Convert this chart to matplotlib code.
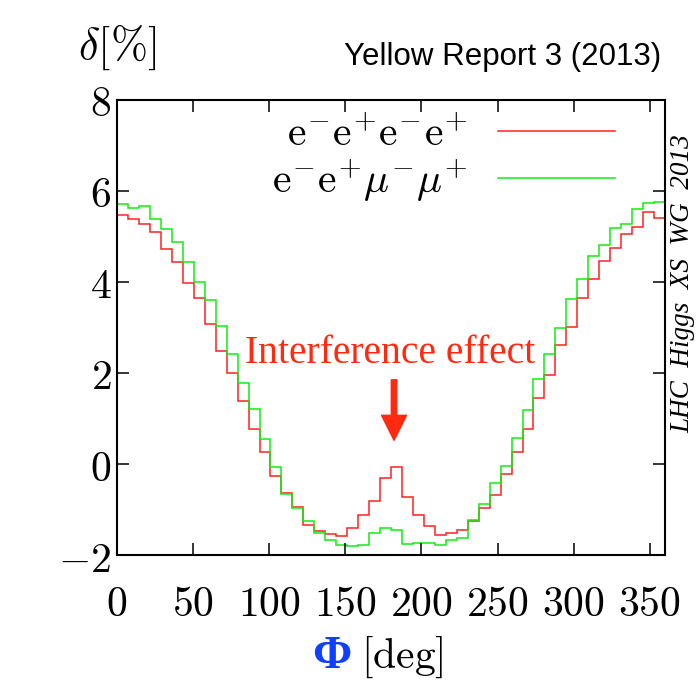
import numpy as np
import matplotlib
matplotlib.use("Agg")
import matplotlib.pyplot as plt

plt.rcParams['mathtext.fontset'] = 'cm'

# 50 bins of 7.2 deg in the azimuthal angle Phi
phi_edges = np.linspace(0, 360, 51)

# delta [%] per bin, 4e final state
delta_eeee = [5.48, 5.39, 5.27, 5.09, 4.73, 4.45, 3.97, 3.64, 3.08, 2.49,
              1.99, 1.39, 0.76, 0.26, -0.26, -0.64, -0.94, -1.33, -1.47, -1.54,
              -1.58, -1.40, -1.12, -0.81, -0.30, -0.07, -0.72, -1.13, -1.37, -1.55,
              -1.52, -1.45, -1.25, -0.97, -0.68, -0.22, 0.26, 0.78, 1.44, 1.96,
              2.62, 3.02, 3.65, 4.06, 4.47, 4.74, 5.05, 5.20, 5.53, 5.40]

# delta [%] per bin, 2e2mu final state
delta_eemm = [5.72, 5.62, 5.68, 5.39, 5.17, 4.87, 4.45, 4.01, 3.60, 3.03,
              2.41, 1.79, 1.20, 0.55, -0.07, -0.66, -0.97, -1.25, -1.52, -1.66,
              -1.79, -1.81, -1.77, -1.52, -1.41, -1.46, -1.76, -1.73, -1.73, -1.77,
              -1.68, -1.62, -1.24, -0.88, -0.42, -0.05, 0.58, 1.19, 1.87, 2.41,
              2.98, 3.63, 4.06, 4.57, 4.81, 5.18, 5.27, 5.60, 5.73, 5.75]

x_ticks = [0, 50, 100, 150, 200, 250, 300, 350]
y_ticks = [-2, 0, 2, 4, 6, 8]

fig = plt.figure(figsize=(6.97, 6.81), dpi=100)
ax = fig.add_axes([0.1679, 0.185, 0.7862, 0.6682])

ax.stairs(delta_eeee, phi_edges, baseline=None, color='#ff2020', lw=1.1,
          label=r'$\mathrm{e^{-}e^{+}e^{-}e^{+}}$')
ax.stairs(delta_eemm, phi_edges, baseline=None, color='#10ee10', lw=1.1,
          label=r'$\mathrm{e^{-}e^{+}}\mu^{-}\mu^{+}$')

ax.set_xlim(0, 360)
ax.set_ylim(-2, 8)
ax.set_xticks(x_ticks)
ax.set_xticklabels([f'${v}$' for v in x_ticks])
ax.set_yticks(y_ticks)
ax.set_yticklabels([f'${v}$' for v in y_ticks])
ax.tick_params(direction='in', length=8.5, width=1.1, top=True, right=True,
               labelsize=30)
ax.tick_params(axis='x', pad=20)
ax.tick_params(axis='y', pad=4)
for s in ax.spines.values():
    s.set_linewidth(1.5)

ax.legend(loc='upper right', bbox_to_anchor=(0.909, 0.972), markerfirst=False,
          frameon=False, fontsize=30, handlelength=2.8, handletextpad=0.75,
          labelspacing=0.05, borderpad=0, borderaxespad=0)

# annotation of the interference peak
ax.text(179.4, 2.22, 'Interference effect', ha='center', va='baseline',
        color='#ff2a10', fontsize=28.5, family='Liberation Serif')
ax.annotate('', xy=(182, 0.52), xytext=(182, 1.85),
            arrowprops=dict(arrowstyle='simple,head_length=1.0,head_width=1.0,tail_width=0.22',
                            color='#ff2a10', mutation_scale=18, shrinkA=0, shrinkB=0))

fig.text(0.168, 0.931, r'$\delta[\%]$', fontsize=32, ha='center', va='center')
fig.text(0.7217, 0.916, 'Yellow Report 3 (2013)', fontsize=22.5,
         family='Liberation Sans', ha='center', va='center')
fig.text(0.979, 0.583, 'LHC  Higgs  XS  WG  2013', rotation=90, fontsize=19.5,
         family='Liberation Serif', style='italic', ha='center', va='center')

# axis title: bold blue Phi followed by the unit
fig.text(0.5036, 0.019, 'Φ', color='#1040ff', fontsize=34, fontweight='bold',
         family='Liberation Serif', ha='right', va='baseline')
fig.text(0.518, 0.019, r'$\mathrm{[deg]}$', fontsize=30, ha='left', va='baseline')

fig.savefig('out.png', dpi=100)
